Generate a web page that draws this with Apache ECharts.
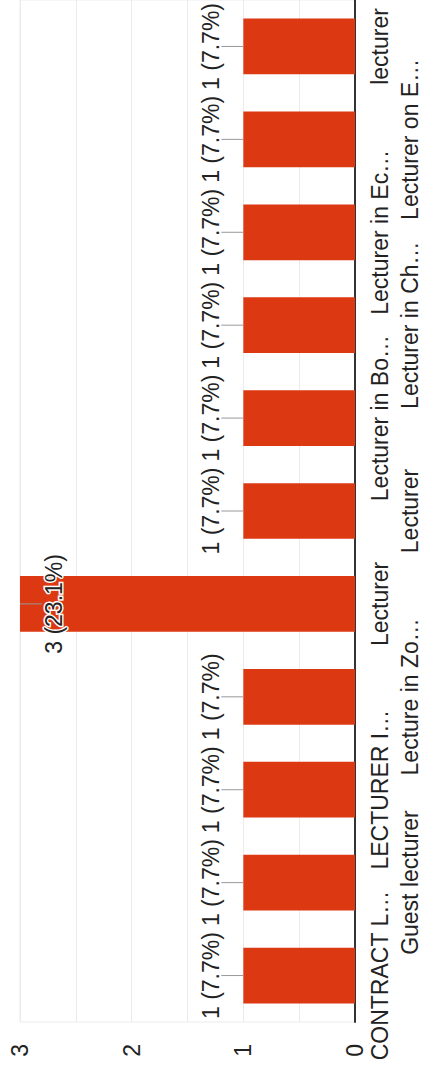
<!DOCTYPE html>
<html>
<head>
<meta charset="utf-8">
<script src="https://cdn.jsdelivr.net/npm/echarts@6/dist/echarts.min.js"></script>
<style>
  html, body { margin: 0; padding: 0; background: #fff; overflow: hidden; }
  body { width: 425px; height: 1069px; position: relative; }
  /* chart is drawn as a normal column chart and turned a quarter turn counter-clockwise */
  #chart {
    position: absolute; left: 0; top: 1069px;
    width: 1069px; height: 425px;
    transform-origin: 0 0; transform: rotate(-90deg);
  }
</style>
</head>
<body>
<div id="chart"></div>
<script>
const categories = ['CONTRACT L…', 'Guest lecturer', 'LECTURER I…', 'Lecture in Zo…', 'Lecturer', 'Lecturer',
                    'Lecturer in Bo…', 'Lecturer in Ch…', 'Lecturer in Ec…', 'Lecturer on E…', 'lecturer'];
const counts = [1, 1, 1, 1, 3, 1, 1, 1, 1, 1, 1];
const valueAxisMin = 0;
const valueAxisMax = 3;
const valueAxisInterval = 1;

const total = counts.reduce((a, b) => a + b, 0);
const labelTexts = counts.map(v => v + ' (' + (v / total * 100).toFixed(1) + '%)');

const FONT = '"Liberation Sans", Arial, Helvetica, sans-serif';
const FS = 23;
const TEXT = '#222222';

const chart = echarts.init(document.getElementById('chart'), null, { renderer: 'svg', width: 1069, height: 425 });

chart.setOption({
  animation: false,
  backgroundColor: '#ffffff',
  grid: { left: 47, right: 0, top: 20, bottom: 68, show: true, borderColor: '#ebebeb', borderWidth: 1, backgroundColor: 'transparent' },
  xAxis: {
    type: 'category',
    data: categories,
    axisLine: { show: true, lineStyle: { color: '#333333', width: 2 } },
    axisTick: { show: false },
    axisLabel: {
      interval: 0,
      fontSize: FS,
      fontFamily: FONT,
      color: TEXT,
      lineHeight: 30,
      margin: 10,
      formatter: (v, i) => (i % 2 ? '\n' + v : v)
    },
    splitLine: { show: false }
  },
  yAxis: {
    type: 'value',
    min: valueAxisMin,
    max: valueAxisMax,
    interval: valueAxisInterval,
    axisLine: { show: false },
    axisTick: { show: false },
    axisLabel: { fontSize: FS, fontFamily: FONT, color: TEXT, margin: 22 },
    splitLine: { show: true, lineStyle: { color: '#ebebeb', width: 1 } },
    minorTick: { show: false, splitNumber: 2 },
    minorSplitLine: { show: true, lineStyle: { color: '#ebebeb', width: 1 } }
  },
  series: [
    {
      type: 'bar',
      data: counts,
      barCategoryGap: '40%',
      itemStyle: { color: '#dc3912' },
      z: 2
    },
    {
      type: 'custom',
      data: counts.map((v, i) => [i, v]),
      z: 5,
      renderItem: function (params, api) {
        const idx = api.value(0);
        const v = api.value(1);
        const top = api.coord([idx, v]);
        const gridTop = params.coordSys.y;
        const lead = 22;
        const outside = top[1] - gridTop >= lead + 24;
        const y2 = outside ? top[1] - lead : top[1] + lead;
        return {
          type: 'group',
          children: [
            {
              type: 'line',
              shape: { x1: top[0], y1: top[1], x2: top[0], y2: y2 },
              style: { stroke: '#999999', lineWidth: 1 }
            },
            {
              type: 'text',
              x: top[0],
              y: outside ? y2 + 1 : y2,
              style: {
                text: labelTexts[params.dataIndex],
                fontSize: FS,
                fontFamily: FONT,
                fill: TEXT,
                align: 'center',
                verticalAlign: outside ? 'bottom' : 'top',
                stroke: outside ? null : '#ffffff',
                lineWidth: outside ? 0 : 3
              }
            }
          ]
        };
      }
    }
  ]
});
</script>
</body>
</html>
